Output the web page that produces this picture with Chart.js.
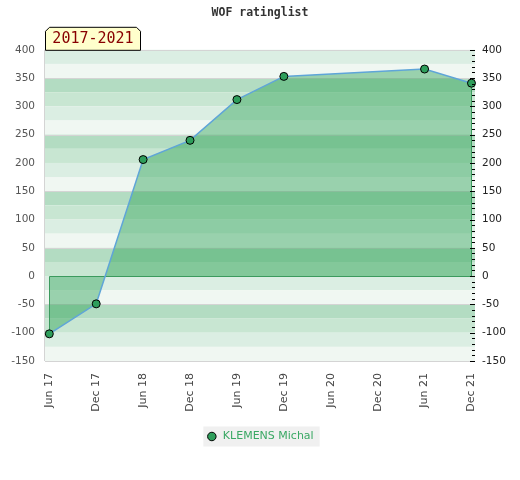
<!DOCTYPE html>
<html><head><meta charset="utf-8">
<script src="https://cdn.jsdelivr.net/npm/chart.js@4/dist/chart.umd.min.js"></script>
<style>html,body{margin:0;padding:0;background:#fff}</style>
</head><body>
<canvas id="c" width="520" height="480"></canvas>
<script>
const chartTitle = 'WOF ratinglist';
const periodLabel = '2017-2021';
const seriesName = 'KLEMENS Michal';
const tickLabels = ['Jun 17','Dec 17','Jun 18','Dec 18','Jun 19','Dec 19','Jun 20','Dec 20','Jun 21','Dec 21'];
const pointDates = ['Jun 17','Dec 17','Jun 18','Dec 18','Jun 19','Dec 19','Jun 21','Dec 21'];
const ratingValues = [-102, -49, 206, 240, 312, 353, 366, 341];
const yMin = -150, yMax = 400, yStep = 50;
const monthsPerTick = 6;

const points = pointDates.map((d, i) => ({x: tickLabels.indexOf(d) * monthsPerTick, y: ratingValues[i]}));
const xLast = (tickLabels.length - 1) * monthsPerTick;

const bandColors = ['#b3dcc2', '#c8e6d2', '#dbeee3', '#f0f7f2'];

const decor = {
  id: 'decor',
  beforeDraw(chart) {
    const ctx = chart.ctx, a = chart.chartArea, y = chart.scales.y;
    ctx.save();
    for (let top = yMax; top > yMin; top -= 25) {
      const k = ((((350 - top) / 25) % 4) + 4) % 4;
      const p1 = y.getPixelForValue(top), p2 = y.getPixelForValue(top - 25);
      ctx.fillStyle = bandColors[k];
      ctx.fillRect(a.left, p1, a.right - a.left, p2 - p1);
    }
    ctx.strokeStyle = '#d4d4d4';
    ctx.lineWidth = 1;
    for (let v = yMax; v >= yMin; v -= 25) {
      const k = ((((350 - v) / 25) % 4) + 4) % 4;
      if (k === 0 || v === yMax || v === yMin) {
        const py = Math.round(y.getPixelForValue(v)) + 0.5;
        ctx.beginPath(); ctx.moveTo(a.left, py); ctx.lineTo(a.right, py); ctx.stroke();
      }
    }
    ctx.beginPath(); ctx.moveTo(Math.round(a.left) - 0.5, a.top); ctx.lineTo(Math.round(a.left) - 0.5, a.bottom); ctx.stroke();
    const lg = chart.legend;
    if (lg && lg.legendHitBoxes && lg.legendHitBoxes.length) {
      const hb = lg.legendHitBoxes[0];
      ctx.fillStyle = '#f0f0f0';
      ctx.fillRect(hb.left - 3, hb.top + hb.height / 2 - 10, hb.width + 9, 20);
    }
    const bx = a.left, bw = 95, by = a.top - 23, bh = 23, c = 4;
    ctx.beginPath();
    ctx.moveTo(bx + 0.5, a.top + 0.5);
    ctx.lineTo(bx + 0.5, by + c + 0.5);
    ctx.lineTo(bx + c + 0.5, by + 0.5);
    ctx.lineTo(bx + bw - c + 0.5, by + 0.5);
    ctx.lineTo(bx + bw + 0.5, by + c + 0.5);
    ctx.lineTo(bx + bw + 0.5, a.top + 0.5);
    ctx.closePath();
    ctx.fillStyle = '#ffffcc';
    ctx.fill();
    ctx.strokeStyle = '#000';
    ctx.stroke();
    ctx.fillStyle = '#880000';
    ctx.font = '15px "DejaVu Sans Mono"';
    ctx.textBaseline = 'middle';
    ctx.textAlign = 'center';
    ctx.fillText(periodLabel, bx + bw / 2 + 0.5, by + bh / 2 + 1);
    ctx.restore();
  },
  beforeDatasetsDraw(chart) {
    const ctx = chart.ctx, y = chart.scales.y;
    const pts = chart.getDatasetMeta(0).data;
    const z = Math.round(y.getPixelForValue(0)) + 0.5;
    const first = pts[0], last = pts[pts.length - 1];
    ctx.save();
    ctx.strokeStyle = '#3c9a5e';
    ctx.lineWidth = 1;
    ctx.beginPath();
    ctx.moveTo(Math.round(first.x) + 0.5, first.y);
    ctx.lineTo(Math.round(first.x) + 0.5, z);
    ctx.lineTo(Math.round(last.x) + 0.5, z);
    ctx.lineTo(Math.round(last.x) + 0.5, last.y);
    ctx.stroke();
    ctx.restore();
  },
  afterDraw(chart) {
    const ctx = chart.ctx, a = chart.chartArea, y = chart.scales.y;
    ctx.save();
    ctx.strokeStyle = '#000';
    ctx.lineWidth = 1;
    for (let v = yMin; v <= yMax; v += 10) {
      const py = Math.round(y.getPixelForValue(v)) + 0.5;
      const len = (v % yStep === 0) ? 5 : 3;
      ctx.beginPath(); ctx.moveTo(a.right - len, py); ctx.lineTo(a.right, py); ctx.stroke();
    }
    ctx.restore();
  }
};

new Chart(document.getElementById('c'), {
  type: 'line',
  data: {
    datasets: [{
      label: seriesName,
      data: points,
      borderColor: '#5fa5d8',
      borderWidth: 1.5,
      backgroundColor: 'rgba(40,160,80,0.43)',
      fill: 'origin',
      tension: 0,
      pointRadius: 4,
      pointBackgroundColor: '#2e9e5b',
      pointBorderColor: '#000',
      pointBorderWidth: 1,
      clip: false
    }]
  },
  options: {
    responsive: false,
    animation: false,
    layout: {padding: {left: 0, right: 0, top: 0, bottom: 28}},
    plugins: {
      filler: {drawTime: 'beforeDatasetsDraw'},
      title: {
        display: true, text: chartTitle, color: '#333',
        font: {family: '"DejaVu Sans Mono"', size: 11.5, weight: 'bold'},
        padding: {top: 6, bottom: 30}
      },
      legend: {
        position: 'bottom',
        labels: {
          color: '#3aa864',
          font: {family: '"DejaVu Sans"', size: 11},
          usePointStyle: true, pointStyle: 'circle',
          boxWidth: 16, boxHeight: 6, padding: 10,
          generateLabels(chart) {
            return [{text: seriesName, fillStyle: '#2e9e5b', strokeStyle: '#000', lineWidth: 1, pointStyle: 'circle', fontColor: '#3aa864', datasetIndex: 0}];
          }
        }
      },
      tooltip: {enabled: false}
    },
    scales: {
      x: {
        type: 'linear',
        min: -0.55, max: xLast + 0.45,
        grid: {display: false, drawTicks: false},
        border: {display: false},
        afterBuildTicks(s) { s.ticks = tickLabels.map((t, i) => ({value: i * monthsPerTick})); },
        afterFit(s) { s.height = 60; },
        ticks: {
          autoSkip: false, minRotation: 90, maxRotation: 90, padding: 12,
          color: '#444', font: {family: '"DejaVu Sans"', size: 11},
          callback(v) { return tickLabels[Math.round(v / monthsPerTick)]; }
        }
      },
      y: {
        position: 'left', min: yMin, max: yMax,
        grid: {display: false, drawTicks: false}, border: {display: false},
        afterFit(s) { s.width = 45; },
        ticks: {stepSize: yStep, padding: 10, color: '#555', font: {family: '"DejaVu Sans"', size: 10.5}}
      },
      y2: {
        position: 'right', min: yMin, max: yMax,
        grid: {display: false, drawTicks: false}, border: {display: false},
        afterFit(s) { s.width = 45; },
        ticks: {stepSize: yStep, padding: 7, color: '#222', font: {family: '"DejaVu Sans"', size: 10.5}}
      }
    }
  },
  plugins: [decor]
});
</script>
</body></html>
